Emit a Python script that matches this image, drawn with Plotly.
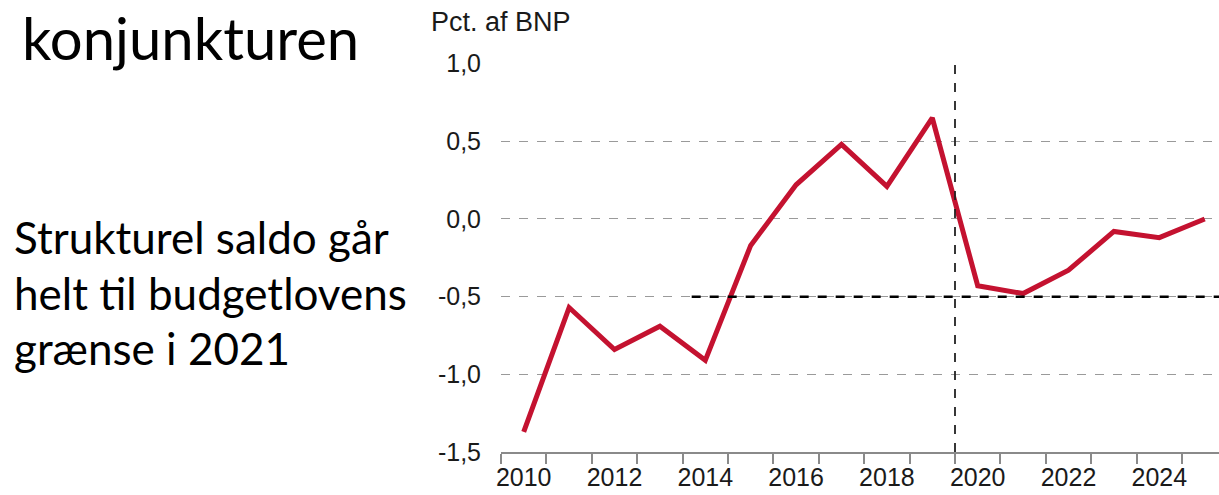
import plotly.graph_objects as go

# ---- data ----
years = list(range(2010, 2026))
saldo = [-1.37, -0.57, -0.84, -0.69, -0.91, -0.17, 0.22, 0.48, 0.21, 0.65,
         -0.43, -0.48, -0.33, -0.08, -0.12, 0.00]
tick_years = [2010, 2012, 2014, 2016, 2018, 2020, 2022, 2024]
tick_year_labels = [str(y) for y in tick_years]
y_ticks = [-1.5, -1.0, -0.5, 0.0, 0.5, 1.0]
y_tick_labels = ["-1,5", "-1,0", "-0,5", "0,0", "0,5", "1,0"]
budget_limit = -0.5
limit_start_year = 2013.7
forecast_break = 2019.5

W, H = 1219, 495
ml, mr, mt, mb = 501, 0, 63, 43
pw, ph = W - ml - mr, H - mt - mb

def px_x(x):
    return (x - ml) / pw

def px_y(y):
    return (H - mb - y) / ph

fig = go.Figure()
fig.add_trace(go.Scatter(
    x=years, y=saldo, mode="lines",
    line=dict(color="#C41230", width=5),
    hoverinfo="skip", showlegend=False,
))

# budget limit line
fig.add_shape(type="line", xref="x", yref="y",
              x0=limit_start_year, x1=2026, y0=budget_limit, y1=budget_limit,
              line=dict(color="black", width=2.5, dash="dash"), layer="above")
# forecast break line
fig.add_shape(type="line", xref="x", yref="paper",
              x0=forecast_break, x1=forecast_break, y0=0, y1=1,
              line=dict(color="#222", width=1.8, dash="dash"), layer="above")

axis_font = dict(family="Liberation Sans, Arial, sans-serif", size=25, color="#1a1a1a")

fig.update_layout(
    width=W, height=H,
    margin=dict(l=ml, r=mr, t=mt, b=mb, pad=0, autoexpand=False),
    plot_bgcolor="white", paper_bgcolor="white",
    xaxis=dict(
        range=[2009.5, 2009.5 + pw / 45.4],
        tickmode="array", tickvals=tick_years, ticktext=tick_year_labels,
        ticks="", showgrid=False, zeroline=False, automargin=False,
        showline=True, linecolor="#8a8a8a", linewidth=2,
        tickfont=axis_font, ticklabelstandoff=2,
        minor=dict(tick0=2009.5, dtick=1, ticks="outside", ticklen=10,
                   tickwidth=2, tickcolor="#8a8a8a", showgrid=False),
    ),
    yaxis=dict(
        range=[-1.5, 1.004],
        tickmode="array", tickvals=y_ticks, ticktext=y_tick_labels,
        ticks="", showline=False, zeroline=False, automargin=False,
        showgrid=True, gridcolor="#9a9a9a", gridwidth=1, griddash="dash",
        tickfont=axis_font, ticklabelstandoff=19,
    ),
)

fig.add_annotation(text="Pct. af BNP", xref="paper", yref="paper",
                   x=px_x(429), y=px_y(22), xanchor="left", yanchor="middle",
                   showarrow=False,
                   font=dict(family="Liberation Sans, Arial, sans-serif", size=27, color="#1a1a1a"))

body_font = dict(family="Lato, sans-serif", size=44, color="black")
fig.add_annotation(text="konjunkturen", xref="paper", yref="paper",
                   x=px_x(20), y=px_y(37), xanchor="left", yanchor="middle",
                   showarrow=False, font=dict(family="Lato, sans-serif", size=58, color="black"))
for line, yc in [("Strukturel saldo går", 237), ("helt til budgetlovens", 292.5),
                 ("grænse i 2021", 348)]:
    fig.add_annotation(text=line, xref="paper", yref="paper",
                       x=px_x(12), y=px_y(yc), xanchor="left", yanchor="middle",
                       showarrow=False, font=body_font)

fig.write_html("out.html", config={"displayModeBar": False},
               post_script="document.body.style.margin='0';document.body.style.overflow='hidden';")
